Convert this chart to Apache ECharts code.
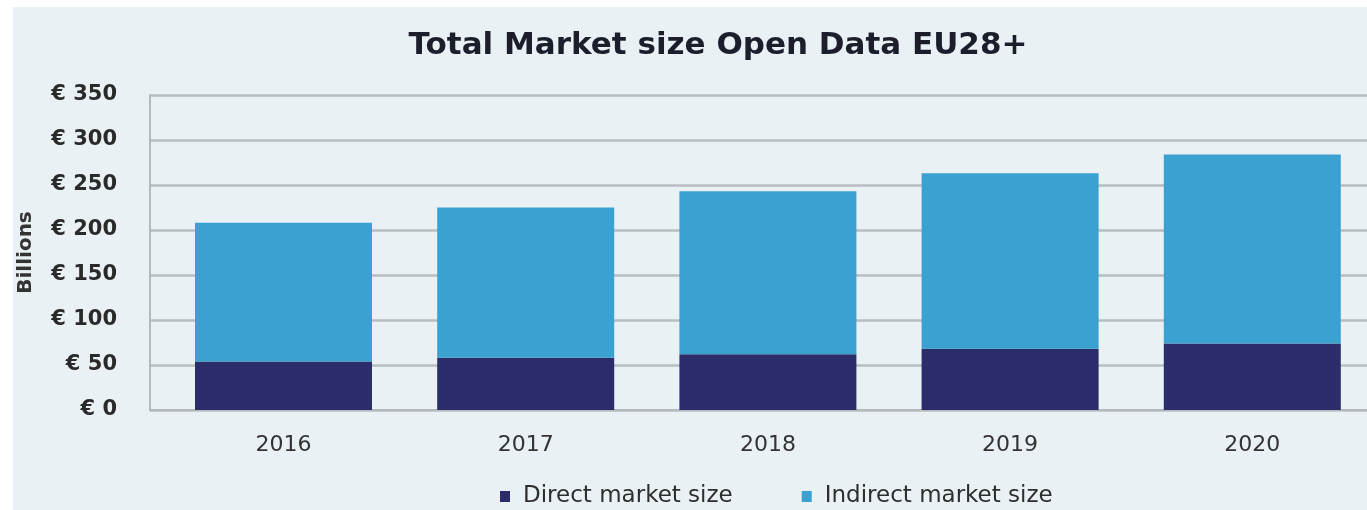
<!DOCTYPE html>
<html>
<head>
<meta charset="utf-8">
<script src="https://cdn.jsdelivr.net/npm/echarts@6/dist/echarts.min.js"></script>
<style>
html,body{margin:0;padding:0;background:#ffffff;width:1367px;height:510px;overflow:hidden;}
#chart{position:absolute;left:13px;top:7px;width:1354px;height:503px;background:#E9F1F5;}
</style>
</head>
<body>
<div id="chart"></div>
<script>
const categories = ['2016', '2017', '2018', '2019', '2020'];
const directValues = [54, 58, 62, 68, 74];
const indirectValues = [154, 167, 181, 195, 210];
const yTicks = [0, 50, 100, 150, 200, 250, 300, 350];
const seriesNames = ['Direct market size', 'Indirect market size'];

const chart = echarts.init(document.getElementById('chart'), null, {renderer: 'canvas'});
const font = '"DejaVu Sans", "Open Sans", sans-serif';
const yMin = yTicks[0], yMax = yTicks[yTicks.length - 1];
chart.setOption({
  backgroundColor: '#E9F1F5',
  animation: false,
  title: {
    text: 'Total Market size Open Data EU28+',
    left: 700,
    top: 18,
    textAlign: 'center',
    textStyle: {fontFamily: font, fontSize: 31, fontWeight: 'bold', color: '#1c1f2b'}
  },
  legend: {
    left: 482,
    top: 473,
    itemWidth: 10,
    itemHeight: 11,
    itemGap: 69,
    icon: 'rect',
    textStyle: {fontFamily: font, fontSize: 23, color: '#2e2e2e', padding: [0, 0, 0, 8]},
    data: seriesNames
  },
  grid: [
    {left: 137, right: 0, top: 88, bottom: 100, outerBoundsMode: 'none', containLabel: false},
    {left: 149.4, right: -6.4, top: 88, bottom: 100, outerBoundsMode: 'none', containLabel: false}
  ],
  xAxis: [
    {
      type: 'category', gridIndex: 0, data: categories,
      axisLine: {show: true, lineStyle: {color: '#b5b9bd', width: 2}},
      axisTick: {show: false}, axisLabel: {show: false}
    },
    {
      type: 'category', gridIndex: 1, data: categories,
      axisLine: {show: false},
      axisTick: {show: false},
      axisLabel: {fontFamily: font, fontSize: 22, color: '#333333', margin: 24}
    }
  ],
  yAxis: [
    {
      type: 'value', gridIndex: 0, min: yMin, max: yMax, interval: 50,
      name: 'Billions', nameLocation: 'middle', nameGap: 114,
      nameTextStyle: {fontFamily: font, fontSize: 20, fontWeight: 'bold', color: '#333333'},
      axisLine: {show: true, lineStyle: {color: '#b5b9bd', width: 2}},
      axisTick: {show: false},
      splitLine: {show: true, lineStyle: {color: '#b9bdc1', width: 2.5}},
      axisLabel: {
        fontFamily: font, fontSize: 21, fontWeight: 'bold', color: '#2a2a2a', margin: 33,
        formatter: v => '€ ' + v
      }
    },
    {
      type: 'value', gridIndex: 1, min: yMin, max: yMax, interval: 50,
      axisLine: {show: false}, axisTick: {show: false}, axisLabel: {show: false},
      splitLine: {show: false}
    }
  ],
  series: [
    {name: seriesNames[0], type: 'bar', stack: 'total', xAxisIndex: 1, yAxisIndex: 1,
     data: directValues, barWidth: 177, itemStyle: {color: '#2B2D6A'}},
    {name: seriesNames[1], type: 'bar', stack: 'total', xAxisIndex: 1, yAxisIndex: 1,
     data: indirectValues, barWidth: 177, itemStyle: {color: '#3AA1D1'}}
  ]
});
</script>
</body>
</html>
